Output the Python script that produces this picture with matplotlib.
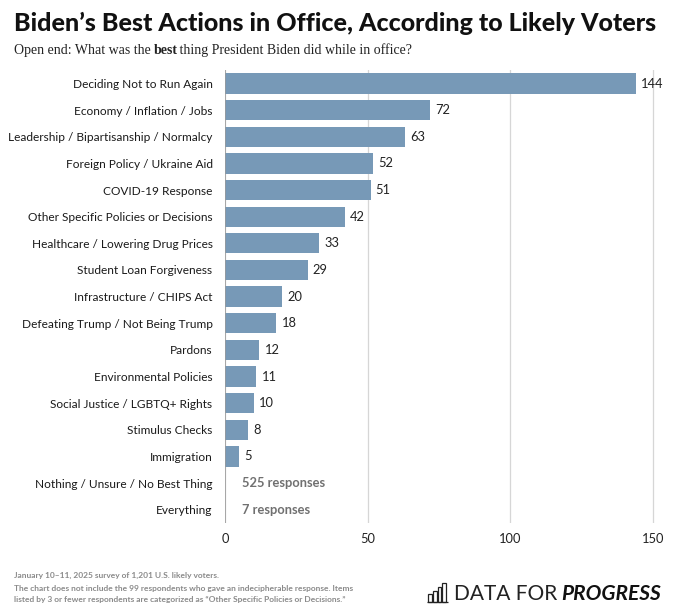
import matplotlib.pyplot as plt
from matplotlib.patches import Rectangle

categories = ["Deciding Not to Run Again", "Economy / Inflation / Jobs",
              "Leadership / Bipartisanship / Normalcy", "Foreign Policy / Ukraine Aid",
              "COVID-19 Response", "Other Specific Policies or Decisions",
              "Healthcare / Lowering Drug Prices", "Student Loan Forgiveness",
              "Infrastructure / CHIPS Act", "Defeating Trump / Not Being Trump",
              "Pardons", "Environmental Policies", "Social Justice / LGBTQ+ Rights",
              "Stimulus Checks", "Immigration"]
values = [144, 72, 63, 52, 51, 42, 33, 29, 20, 18, 12, 11, 10, 8, 5]
extra_categories = ["Nothing / Unsure / No Best Thing", "Everything"]
extra_labels = ["525 responses", "7 responses"]
xticks = [0, 50, 100, 150]

bar_color = "#7799b7"
font = "Lato"
lab_size = 8.6

fig = plt.figure(figsize=(6.8, 6.16), dpi=100)
ax = fig.add_axes([0.331, 0.151, 0.64, 0.735])

ypos = list(range(len(categories)))
ax.barh(ypos, values, height=0.76, color=bar_color, zorder=3)
for y, v in zip(ypos, values):
    ax.text(v + 1.8, y, str(v), va="center", ha="left", fontsize=9.3,
            family=font, color="#222222", zorder=4)

extra_pos = [len(categories) + i for i in range(len(extra_categories))]
for y, lab in zip(extra_pos, extra_labels):
    ax.text(6, y, lab, va="center", ha="left", fontsize=9.3, family=font,
            fontweight="bold", color="#707070")

ax.set_yticks(ypos + extra_pos)
ax.set_yticklabels(categories + extra_categories, fontsize=lab_size, family=font,
                   color="#1a1a1a")
ax.set_ylim(len(categories) + len(extra_categories) - 0.5, -0.5)
ax.set_xlim(0, 152.6)
ax.set_xticks(xticks)
ax.set_xticklabels([str(t) for t in xticks], fontsize=9.3, family=font,
                   color="#222222")
ax.tick_params(length=0, pad=9)
ax.tick_params(axis="x", pad=7)
ax.grid(axis="x", color="#d6d6d6", linewidth=0.9, zorder=0)
for s in ax.spines.values():
    s.set_visible(False)
ax.axvline(0, color="#999999", linewidth=1.1, zorder=5)

fig.text(0.02, 0.962, "Biden\u2019s Best Actions in Office, According to Likely Voters",
         fontsize=18, family=font, fontweight="black", color="#111111", va="center")
sub_size = 10
t1 = fig.text(0.02, 0.918, "Open end: What was the ", fontsize=sub_size,
              family="Liberation Serif", color="#222222", va="center")
fig.canvas.draw()
x1 = t1.get_window_extent().x1 / fig.bbox.width
t2 = fig.text(x1, 0.918, "best", fontsize=sub_size, family="Liberation Serif",
              fontweight="bold", color="#222222", va="center")
fig.canvas.draw()
x2 = t2.get_window_extent().x1 / fig.bbox.width - 0.003
fig.text(x2, 0.918, " thing President Biden did while in office?", fontsize=sub_size,
         family="Liberation Serif", color="#222222", va="center")

fig.text(0.021, 0.066, "January 10\u201311, 2025 survey of 1,201 U.S. likely voters.",
         fontsize=6, family=font, fontweight="bold", color="#8a8a8a", va="center")
fig.text(0.021, 0.045, "The chart does not include the 99 respondents who gave an indecipherable response. Items",
         fontsize=6, family=font, fontweight="bold", color="#8a8a8a", va="center")
fig.text(0.021, 0.027, "listed by 3 or fewer respondents are categorized as \u201cOther Specific Policies or Decisions.\u201d",
         fontsize=6, family=font, fontweight="bold", color="#8a8a8a", va="center")

# logo
lx, ly = 0.630, 0.023
for i, h in enumerate([0.012, 0.018, 0.024, 0.030]):
    fig.patches.append(Rectangle((lx + i * 0.0068, ly), 0.0052, h,
                                 transform=fig.transFigure, fill=False,
                                 edgecolor="#222222", linewidth=0.9))
fig.patches.append(Rectangle((lx - 0.002, ly), 0.031, 0.0,
                             transform=fig.transFigure, fill=False,
                             edgecolor="#222222", linewidth=0.9))
fig.text(0.668, 0.036, "DATA FOR", fontsize=15, family=font, fontweight="normal",
         color="#222222", va="center")
fig.text(0.826, 0.036, "PROGRESS", fontsize=15, family=font, fontweight="bold",
         style="italic", color="#111111", va="center")

fig.savefig("out.png", dpi=100)
